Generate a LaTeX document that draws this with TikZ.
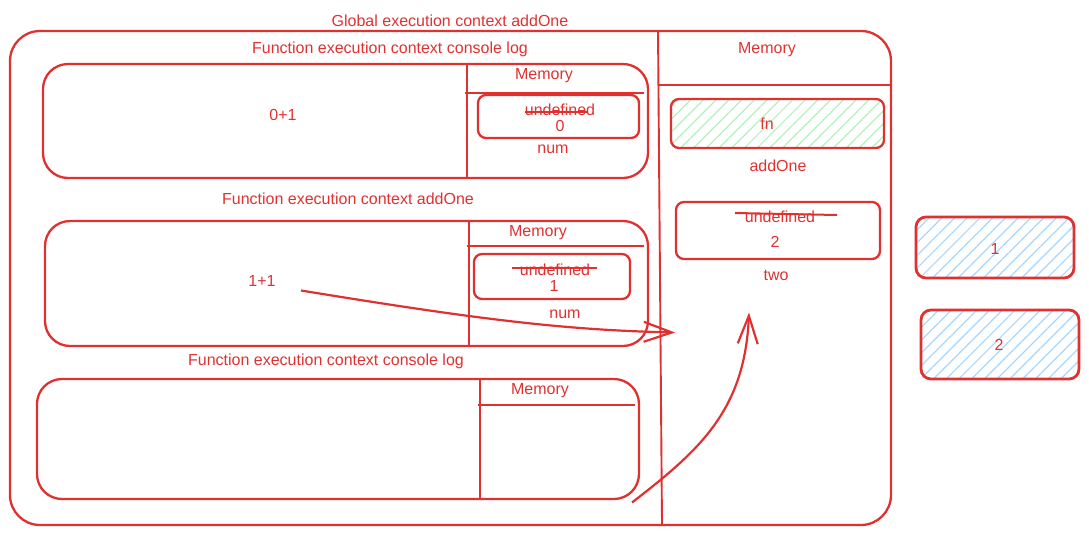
\documentclass[tikz,border=0pt]{standalone}
\usepackage{fontspec}
\setmainfont{Liberation Sans}
\usetikzlibrary{arrows.meta,patterns.meta}
\definecolor{exred}{HTML}{E03131}
\definecolor{exblue}{HTML}{A5D8FF}
\definecolor{exgreen}{HTML}{B2F2BB}

\begin{document}
\begin{tikzpicture}[x=1pt,y=-1pt,
	every node/.style={text=exred,font=\fontsize{16}{19}\selectfont,inner sep=0pt,yshift=-1.5pt},
	frame/.style={draw=exred,line width=2.3pt,rounded corners=#1},
	frame/.default=10pt,
	rule/.style={draw=exred,line width=1.9pt},
	hatch/.style={pattern={Lines[angle=45,distance=9pt,line width=1.2pt]},pattern color=#1},
	strike/.style={draw=exred,line width=2pt},
	flow/.style={draw=exred,line width=2.2pt,-{Straight Barb[length=28pt,width=20pt]}}]
			\useasboundingbox (0,0) rectangle (1089,536);
			% global context
			\node (globalTitle) at (450,19) {Global execution context addOne};
			\draw[frame=30pt] (10,31) rectangle (891,525);
			\draw[rule] (658,31) -- (662,525);
			\node (globalMem) at (767,48) {Memory};
			\draw[rule] (658,85) -- (891,85);
			\draw[frame=8pt,hatch=exgreen] (671,99) rectangle (884,148);
			\node (fnVal) at (767,122) {fn};
			\node (addOneName) at (778,164) {addOne};
			\draw[frame=8pt] (676,202) rectangle (880,259);
			\node (undefTwo) at (780,215) {undefined};
			\draw[strike] (735,213) -- (837,215);
			\node (twoVal) at (775,240) {2};
			\node (twoName) at (776,274) {two};
			% heap values
			\draw[frame=10pt,hatch=exblue,line width=2.8pt] (916,217) rectangle (1074,278);
			\node (heapOne) at (995,247) {1};
			\draw[frame=10pt,hatch=exblue,line width=2.8pt] (921,310) rectangle (1079,379);
			\node (heapTwo) at (999,343) {2};
			% function contexts
			\foreach \xa/\ya/\xb/\yb/\xd/\yr/\xm/\n in {43/64/648/178/467/93/544/A,45/221/648/346/469/246/538/B,37/379/639/499/480/405/540/C}{
				\draw[frame=25pt] (\xa,\ya) rectangle (\xb,\yb);
				\draw[rule] (\xd,\ya) -- (\xd,\yb);
				\draw[rule] (\xd-2,\yr) -- (\xb-4,\yr);
				\node (mem\n) at (\xm,\ya+10) {Memory};
			}
			\node (titleA) at (390,48) {Function execution context console log};
			\node (titleB) at (348,197) {Function execution context addOne};
			\node (titleC) at (326,360) {Function execution context console log};
			\node (sumA) at (283,113) {0+1};
			\node (sumB) at (262,279) {1+1};
			% num slots
			\draw[frame=8pt] (478,95) rectangle (639,138);
			\node (undefA) at (560,108) {undefined};
			\draw[strike] (525,112) -- (588,112);
			\node (numValA) at (560,124) {0};
			\node (numA) at (553,148) {num};
			\draw[frame=8pt] (474,254) rectangle (630,299);
			\node (undefB) at (555,268) {undefined};
			\draw[strike] (512,268) -- (597,268);
			\node (numValB) at (554,284) {1};
			\node (numB) at (565,313) {num};
			% flows
			\coordinate (flowStartB) at (301,289);
			\coordinate (flowEndB) at (675,331);
			\coordinate (flowStartC) at (632,501);
			\coordinate (flowEndC) at (749,311);
			\draw[flow] (flowStartB) .. controls (470,318) and (560,330) .. (flowEndB);
			\draw[flow] (flowStartC) .. controls (700,450) and (745,410) .. (flowEndC);
		\end{tikzpicture}
\end{document}
